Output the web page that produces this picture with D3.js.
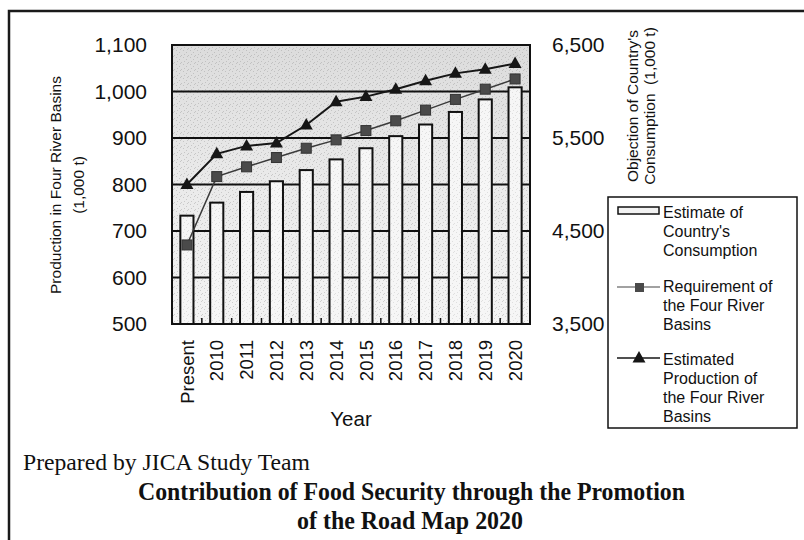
<!DOCTYPE html>
<html>
<head>
<meta charset="utf-8">
<script src="https://cdn.jsdelivr.net/npm/d3@7/dist/d3.min.js"></script>
<style>
  html, body { margin: 0; padding: 0; background: #fff; }
  svg { display: block; }
  .sans { font-family: "Liberation Sans", Arial, sans-serif; fill: #111; }
  .serif { font-family: "Liberation Serif", "Times New Roman", serif; fill: #111; }
</style>
</head>
<body>
<svg id="chart" width="804" height="540"></svg>
<script>
// Years on the horizontal axis
const categories = ["Present", "2010", "2011", "2012", "2013", "2014", "2015", "2016", "2017", "2018", "2019", "2020"];
// Estimate of country's consumption (1,000 t) - right axis, bars
const consumption = [4665, 4805, 4920, 5035, 5155, 5270, 5390, 5520, 5645, 5780, 5915, 6045];
// Requirement of the four river basins (1,000 t) - left axis, squares
const requirement = [670, 817, 838, 858, 878, 896, 916, 937, 960, 983, 1005, 1027];
// Estimated production of the four river basins (1,000 t) - left axis, triangles
const production = [800, 866, 883, 889, 928, 978, 989, 1005, 1023, 1039, 1048, 1060];
// Axis ticks
const leftTicks = [500, 600, 700, 800, 900, 1000, 1100];
const rightTicks = [3500, 4500, 5500, 6500];

const svg = d3.select("#chart");
const plot = { left: 172, right: 530, top: 45, bottom: 324 };

const xs = d3.scaleBand().domain(categories).range([plot.left, plot.right]);
const yL = d3.scaleLinear().domain([500, 1100]).range([plot.bottom, plot.top]);
const yR = d3.scaleLinear().domain([3500, 6500]).range([plot.bottom, plot.top]);
const cx = c => xs(c) + xs.bandwidth() / 2;
const barW = xs.bandwidth() * 0.44;

// Outer frame (left and top rules)
svg.append("path")
  .attr("d", "M9,540 V11 H804")
  .attr("fill", "none").attr("stroke", "#1a1a1a").attr("stroke-width", 2.5);

// Plot background: speckled grey, darker towards the top
const defs = svg.append("defs");
const grad = defs.append("linearGradient").attr("id", "bg").attr("x1", 0).attr("y1", 0).attr("x2", 0).attr("y2", 1);
grad.append("stop").attr("offset", "0%").attr("stop-color", "#dcdcdc");
grad.append("stop").attr("offset", "45%").attr("stop-color", "#e9e9e9");
grad.append("stop").attr("offset", "100%").attr("stop-color", "#f4f4f4");

const pat = defs.append("pattern").attr("id", "speck").attr("width", 7).attr("height", 7)
  .attr("patternUnits", "userSpaceOnUse");
[[1, 1], [4, 3], [2, 5], [6, 6], [5, 0]].forEach(([px, py]) =>
  pat.append("rect").attr("x", px).attr("y", py).attr("width", 1).attr("height", 1).attr("fill", "#8a8a8a").attr("opacity", 0.35));

svg.append("rect")
  .attr("x", plot.left).attr("y", plot.top)
  .attr("width", plot.right - plot.left).attr("height", plot.bottom - plot.top)
  .attr("fill", "url(#bg)");
svg.append("rect")
  .attr("x", plot.left).attr("y", plot.top)
  .attr("width", plot.right - plot.left).attr("height", plot.bottom - plot.top)
  .attr("fill", "url(#speck)");

// Horizontal gridlines
svg.append("g").selectAll("line")
  .data(leftTicks.filter(d => d > 500 && d < 1100))
  .join("line")
  .attr("x1", plot.left).attr("x2", plot.right)
  .attr("y1", d => yL(d)).attr("y2", d => yL(d))
  .attr("stroke", "#111").attr("stroke-width", 2);

// Consumption bars
const bars = svg.append("g");
bars.selectAll("rect.bar")
  .data(categories)
  .join("rect")
  .attr("class", "bar")
  .attr("x", (c) => cx(c) - barW / 2)
  .attr("width", barW)
  .attr("y", (c, i) => yR(consumption[i]))
  .attr("height", (c, i) => plot.bottom - yR(consumption[i]))
  .attr("fill", "#f6f6f6")
  .attr("stroke", "#111").attr("stroke-width", 2);
bars.selectAll("rect.barspeck")
  .data(categories)
  .join("rect")
  .attr("class", "barspeck")
  .attr("x", (c) => cx(c) - barW / 2 + 1)
  .attr("width", barW - 2)
  .attr("y", (c, i) => yR(consumption[i]) + 1)
  .attr("height", (c, i) => plot.bottom - yR(consumption[i]) - 1)
  .attr("fill", "url(#speck)").attr("opacity", 0.6);

// Plot border
svg.append("rect")
  .attr("x", plot.left).attr("y", plot.top)
  .attr("width", plot.right - plot.left).attr("height", plot.bottom - plot.top)
  .attr("fill", "none").attr("stroke", "#111").attr("stroke-width", 2);

// Inner tick marks between categories
svg.append("g").selectAll("line")
  .data(categories.slice(1))
  .join("line")
  .attr("x1", c => xs(c)).attr("x2", c => xs(c))
  .attr("y1", plot.bottom).attr("y2", plot.bottom - 6)
  .attr("stroke", "#111").attr("stroke-width", 1.5);

// Requirement line + squares
const lineL = d3.line().x((d, i) => cx(categories[i])).y(d => yL(d));
svg.append("path")
  .datum(requirement)
  .attr("d", lineL)
  .attr("fill", "none").attr("stroke", "#3a3a3a").attr("stroke-width", 1.5);
svg.append("g").selectAll("rect")
  .data(requirement)
  .join("rect")
  .attr("x", (d, i) => cx(categories[i]) - 5)
  .attr("y", d => yL(d) - 5)
  .attr("width", 10).attr("height", 10)
  .attr("fill", "#4a4a4a").attr("stroke", "#333").attr("stroke-width", 1);

// Production line + triangles
const tri = (x, y) => `M${x},${y - 7}L${x + 6.5},${y + 4.5}L${x - 6.5},${y + 4.5}Z`;
svg.append("path")
  .datum(production)
  .attr("d", lineL)
  .attr("fill", "none").attr("stroke", "#161616").attr("stroke-width", 2);
svg.append("g").selectAll("path")
  .data(production)
  .join("path")
  .attr("d", (d, i) => tri(cx(categories[i]), yL(d)))
  .attr("fill", "#161616");

// Left axis labels
const axL = svg.append("g").attr("transform", `translate(${plot.left},0)`)
  .call(d3.axisLeft(yL).tickValues(leftTicks).tickFormat(d3.format(",")).tickSize(0).tickPadding(25));
axL.select(".domain").remove();
axL.selectAll("text").attr("class", "sans").attr("font-size", 21).attr("fill", "#111");

// Right axis labels
const axR = svg.append("g").attr("transform", `translate(${plot.right},0)`)
  .call(d3.axisRight(yR).tickValues(rightTicks).tickFormat(d3.format(",")).tickSize(0).tickPadding(22));
axR.select(".domain").remove();
axR.selectAll("text").attr("class", "sans").attr("font-size", 21).attr("fill", "#111");

// Category labels, rotated
const axB = svg.append("g").attr("transform", `translate(0,${plot.bottom})`)
  .call(d3.axisBottom(xs).tickSize(0));
axB.select(".domain").remove();
axB.selectAll("text")
  .attr("class", "sans").attr("font-size", 18.5).attr("fill", "#111")
  .attr("x", 0).attr("y", 0).attr("dy", "0.36em")
  .attr("text-anchor", "end")
  .attr("transform", "translate(0,16) rotate(-90)");

// Axis titles
const t = svg.append("g").attr("class", "sans");
t.append("text").attr("font-size", 20.5).attr("text-anchor", "middle")
  .attr("x", 351).attr("y", 426).text("Year");

t.append("text").attr("font-size", 15.5).attr("text-anchor", "middle")
  .attr("transform", "translate(61,185) rotate(-90)").text("Production in Four River Basins");
t.append("text").attr("font-size", 15.5).attr("text-anchor", "middle")
  .attr("transform", "translate(84,185) rotate(-90)").text("(1,000 t)");

t.append("text").attr("font-size", 15.5).attr("text-anchor", "middle")
  .attr("transform", "translate(638,106) rotate(-90)").text("Objection of Country's");
t.append("text").attr("font-size", 15.5).attr("text-anchor", "middle").attr("xml:space", "preserve")
  .attr("transform", "translate(655,106) rotate(-90)").text("Consumption  (1,000 t)");

// Legend
const lg = svg.append("g");
lg.append("rect").attr("x", 608).attr("y", 197).attr("width", 189).attr("height", 231)
  .attr("fill", "#fff").attr("stroke", "#111").attr("stroke-width", 1.5);

lg.append("rect").attr("x", 618).attr("y", 207).attr("width", 41).attr("height", 7)
  .attr("fill", "#f2f2f2").attr("stroke", "#111").attr("stroke-width", 1.5);

lg.append("line").attr("x1", 617).attr("x2", 660).attr("y1", 287).attr("y2", 287)
  .attr("stroke", "#444").attr("stroke-width", 1.2);
lg.append("rect").attr("x", 635).attr("y", 283).attr("width", 9).attr("height", 9)
  .attr("fill", "#4a4a4a");

lg.append("line").attr("x1", 617).attr("x2", 660).attr("y1", 358).attr("y2", 358)
  .attr("stroke", "#161616").attr("stroke-width", 1.5);
lg.append("path").attr("d", tri(639, 358)).attr("fill", "#161616");

const legendLines = [
  ["Estimate of", 218], ["Country's", 237], ["Consumption", 256],
  ["Requirement of", 292], ["the Four River", 311], ["Basins", 330],
  ["Estimated", 365], ["Production of", 384], ["the Four River", 403], ["Basins", 422]
];
lg.selectAll("text.lgt").data(legendLines).join("text")
  .attr("class", "sans lgt").attr("font-size", 16)
  .attr("x", 663).attr("y", d => d[1]).text(d => d[0]);

// Source note and caption
svg.append("text").attr("class", "serif").attr("font-size", 24)
  .attr("x", 23).attr("y", 470).attr("textLength", 287).attr("lengthAdjust", "spacingAndGlyphs")
  .text("Prepared by JICA Study Team");
svg.append("text").attr("class", "serif").attr("font-size", 24.5).attr("font-weight", "bold")
  .attr("x", 138).attr("y", 500).attr("textLength", 547).attr("lengthAdjust", "spacingAndGlyphs")
  .text("Contribution of Food Security through the Promotion");
svg.append("text").attr("class", "serif").attr("font-size", 24.5).attr("font-weight", "bold")
  .attr("x", 297).attr("y", 529).attr("textLength", 226).attr("lengthAdjust", "spacingAndGlyphs")
  .text("of the Road Map 2020");
</script>
</body>
</html>
